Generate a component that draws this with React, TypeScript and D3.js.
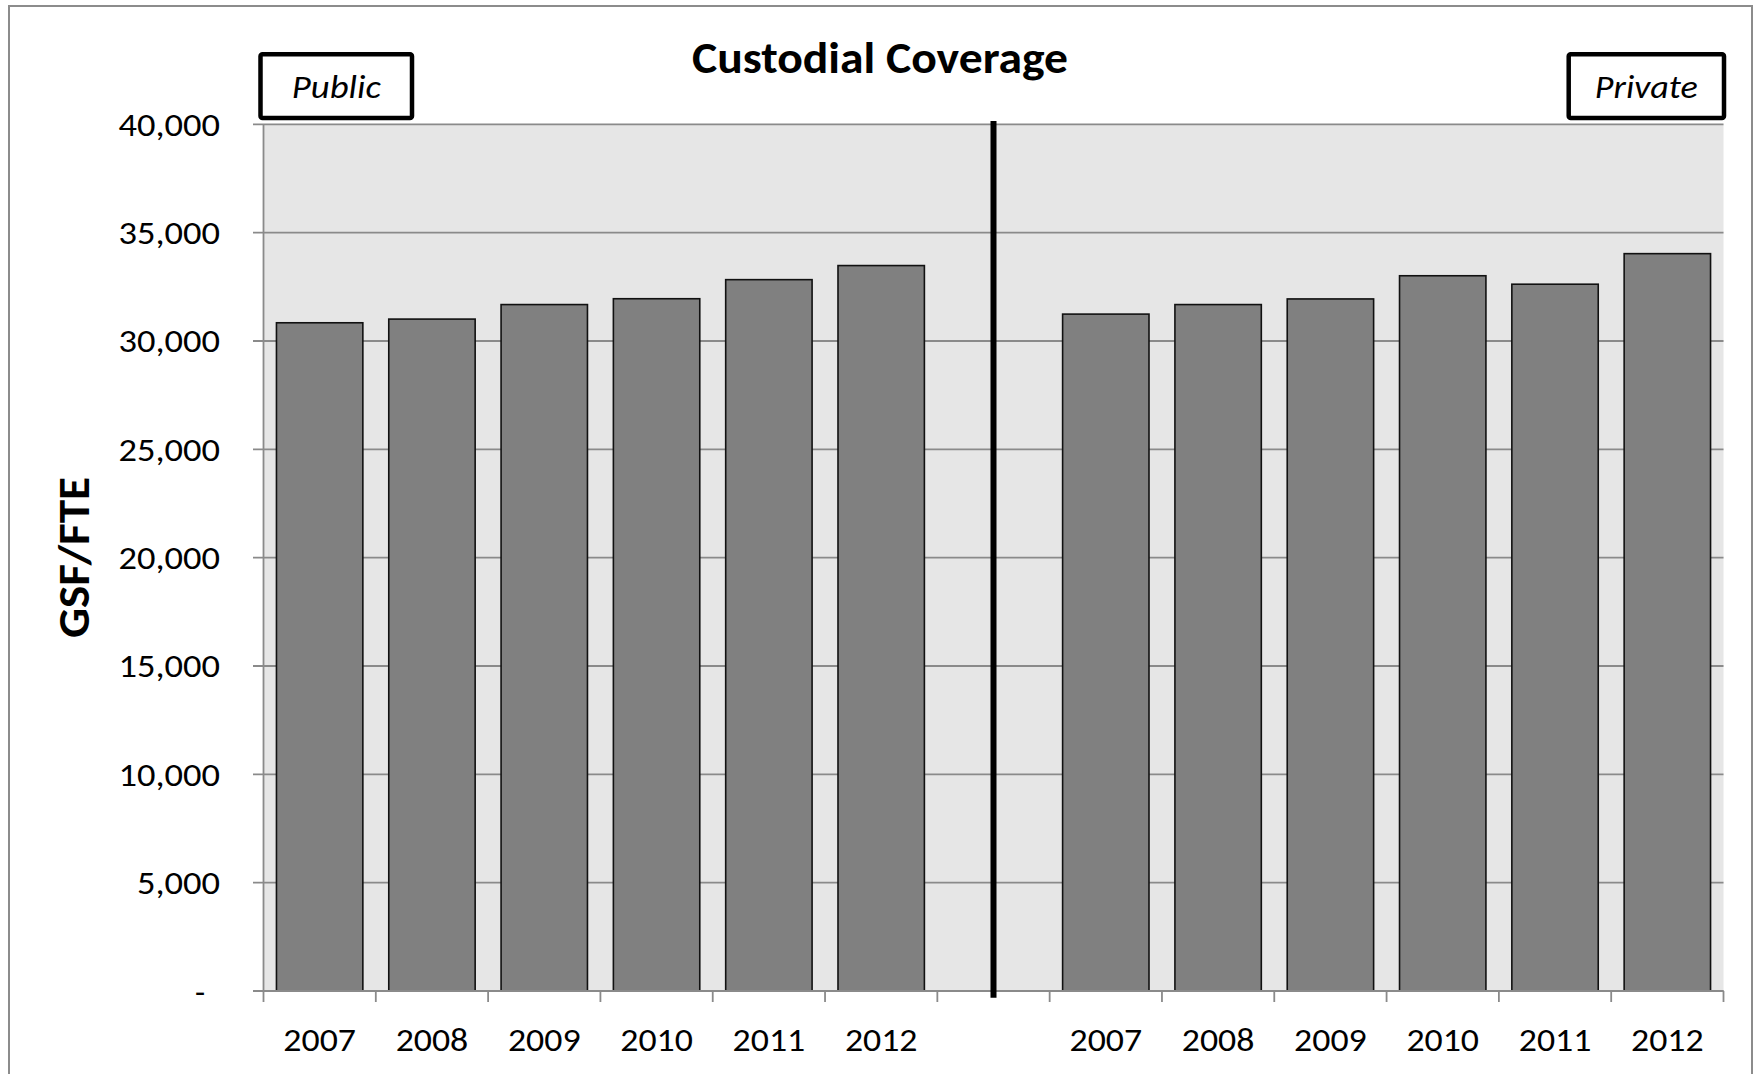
import React from "react";
import * as d3 from "d3";

// Custodial coverage (GSF per FTE), public vs private institutions
const years = ["2007", "2008", "2009", "2010", "2011", "2012"];
const publicValues = [30840, 31010, 31680, 31950, 32830, 33480];
const privateValues = [31240, 31680, 31940, 33010, 32620, 34030];
const yTicks = [0, 5000, 10000, 15000, 20000, 25000, 30000, 35000, 40000];
const groupLabels = ["Public", "Private"];

const W = 1756;
const H = 1074;
const FONT = "Carlito, Lato, 'Open Sans', sans-serif";

const plotLeft = 263.5;
const plotRight = 1723.5;
const plotTop = 124.3;
const plotBottom = 991;

// approximate glyph advances for tick labels (digits and comma)
const DIGIT_W = 18.4;
const COMMA_W = 9.5;

type Cat = { key: string; label: string; value: number | null };

const categories: Cat[] = [
  ...years.map((y, i) => ({ key: `pub-${y}`, label: y, value: publicValues[i] })),
  { key: "gap", label: "", value: null },
  ...years.map((y, i) => ({ key: `priv-${y}`, label: y, value: privateValues[i] })),
];

function labelWidth(s: string) {
  let w = 0;
  for (const ch of s) w += ch === "," ? COMMA_W : DIGIT_W;
  return w;
}

export default function App() {
  const x = d3
    .scaleBand<string>()
    .domain(categories.map((c) => c.key))
    .range([plotLeft, plotRight])
    .padding(0);
  const y = d3.scaleLinear().domain([0, 40000]).range([plotBottom, plotTop]);
  const bw = x.bandwidth();
  const barW = bw / 1.3;
  const fmt = d3.format(",");

  const boundaries = categories.map((c) => x(c.key)!).concat([plotRight]);
  const gapCenter = x("gap")! + bw / 2;

  return (
    <svg
      width={W}
      height={H}
      style={{ position: "absolute", left: 0, top: 0, background: "#fff" }}
      fontFamily={FONT}
    >
      {/* chart frame */}
      <rect x={9} y={6} width={1743} height={1100} fill="#fff" stroke="#8c8c8c" strokeWidth={2} />

      {/* plot background */}
      <rect
        x={plotLeft}
        y={plotTop}
        width={plotRight - plotLeft}
        height={plotBottom - plotTop}
        fill="#e6e6e6"
      />

      {/* horizontal gridlines with left ticks */}
      {yTicks.map((t) => (
        <line
          key={`g${t}`}
          x1={253}
          x2={plotRight}
          y1={y(t)}
          y2={y(t)}
          stroke="#8a8a8a"
          strokeWidth={1.8}
        />
      ))}

      {/* bars */}
      {categories
        .filter((c) => c.value !== null)
        .map((c) => (
          <rect
            key={c.key}
            x={x(c.key)! + (bw - barW) / 2}
            y={y(c.value as number)}
            width={barW}
            height={plotBottom - y(c.value as number)}
            fill="#808080"
            stroke="#111"
            strokeWidth={1.6}
          />
        ))}

      {/* y axis line */}
      <line x1={plotLeft} x2={plotLeft} y1={plotTop} y2={plotBottom} stroke="#8a8a8a" strokeWidth={1.8} />
      {/* x axis line and ticks */}
      <line x1={253} x2={plotRight} y1={plotBottom} y2={plotBottom} stroke="#8a8a8a" strokeWidth={1.8} />
      {boundaries.map((bx, i) => (
        <line
          key={`t${i}`}
          x1={bx}
          x2={bx}
          y1={plotBottom}
          y2={plotBottom + 11}
          stroke="#8a8a8a"
          strokeWidth={1.8}
        />
      ))}

      {/* divider between groups */}
      <line x1={gapCenter} x2={gapCenter} y1={121} y2={997.7} stroke="#000" strokeWidth={6} />

      {/* y tick labels */}
      {yTicks.map((t) =>
        t === 0 ? (
          <text key="yl0" x={205} y={y(t) + 11.5} textAnchor="end" fontSize={33} fill="#000">
            -
          </text>
        ) : (
          <text
            key={`yl${t}`}
            x={220}
            y={y(t) + 11.5}
            textAnchor="end"
            fontSize={33}
            fill="#000"
            textLength={labelWidth(fmt(t))}
            lengthAdjust="spacingAndGlyphs"
          >
            {fmt(t)}
          </text>
        )
      )}

      {/* x tick labels */}
      {categories
        .filter((c) => c.label)
        .map((c) => (
          <text
            key={`xl${c.key}`}
            x={x(c.key)! + bw / 2}
            y={1051}
            textAnchor="middle"
            fontSize={33}
            fill="#000"
            textLength={labelWidth(c.label) - 1}
            lengthAdjust="spacingAndGlyphs"
          >
            {c.label}
          </text>
        ))}

      {/* title */}
      <text
        x={880}
        y={73}
        textAnchor="middle"
        fontSize={44}
        fontWeight="bold"
        textLength={376}
        lengthAdjust="spacingAndGlyphs"
      >
        Custodial Coverage
      </text>

      {/* y axis title */}
      <text
        transform="translate(89,557.5) rotate(-90)"
        textAnchor="middle"
        fontSize={45}
        fontWeight="bold"
        textLength={161}
        lengthAdjust="spacingAndGlyphs"
      >
        GSF/FTE
      </text>

      {/* group labels */}
      {[
        { label: groupLabels[0], x0: 260.5, x1: 412, len: 89 },
        { label: groupLabels[1], x0: 1568.7, x1: 1724, len: 103 },
      ].map((g) => (
        <g key={g.label}>
          <rect
            x={g.x0}
            y={54.3}
            width={g.x1 - g.x0}
            height={63.7}
            rx={2}
            fill="#fff"
            stroke="#000"
            strokeWidth={4.5}
          />
          <text
            x={(g.x0 + g.x1) / 2}
            y={97.7}
            textAnchor="middle"
            fontSize={33}
            fontStyle="italic"
            textLength={g.len}
            lengthAdjust="spacingAndGlyphs"
          >
            {g.label}
          </text>
        </g>
      ))}
    </svg>
  );
}
